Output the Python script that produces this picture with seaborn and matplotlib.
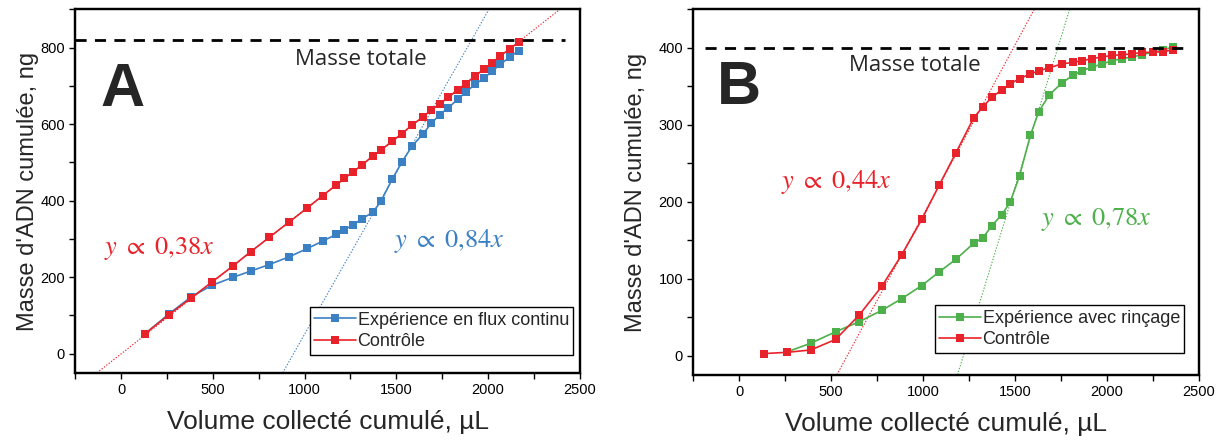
import numpy as np
import pandas as pd
import matplotlib.pyplot as plt
import seaborn as sns
from matplotlib.ticker import MultipleLocator
from matplotlib.lines import Line2D
from matplotlib.patches import Rectangle

# ---- Panel A : flux continu vs contrôle ----
vol_a = [129, 260, 382, 496, 611, 707, 807, 915, 1015, 1098, 1173, 1216, 1264,
         1315, 1373, 1416, 1478, 1531, 1587, 1644, 1691, 1738, 1785, 1836,
         1880, 1931, 1978, 2024, 2067, 2122, 2167]
flux_a = [52, 104, 149, 179, 200, 216, 233, 253, 275, 294, 312, 324, 336,
          353, 370, 398, 456, 501, 543, 573, 602, 625, 643, 665,
          684, 704, 720, 738, 756, 776, 792]
ctrl_a = [52, 102, 146, 188, 230, 267, 304, 344, 381, 413, 441, 458, 475,
          494, 517, 532, 555, 575, 598, 618, 637, 653, 670, 690,
          706, 726, 743, 760, 778, 797, 814]
fit_ctrl_a = (0.376, 0.0)      # slope, intercept
fit_flux_a = (0.844, -793.0)
total_a = 820

# ---- Panel B : rinçage vs contrôle ----
vol_b_ctrl = [134, 261, 388, 524, 652, 777, 884, 993, 1089, 1178, 1276, 1325,
              1376, 1428, 1474, 1526, 1584, 1630, 1688, 1755, 1815, 1864,
              1922, 1975, 2029, 2085, 2140, 2191, 2250, 2305, 2359]
ctrl_b = [2.6, 4.3, 7.3, 21, 52.6, 90.5, 131, 177, 222, 263, 309, 323,
          336, 345, 353, 360, 366, 370, 374, 379, 381, 383,
          386, 388, 390, 391, 392, 394, 394, 395, 397]
vol_b_rinse = vol_b_ctrl[1:]
rinse_b = [5, 16, 31, 44, 59, 74, 91, 109, 125, 146, 153,
           169, 183, 199, 234, 286, 317, 339, 354, 364, 370,
           375, 379, 383, 386, 388, 391, 394, 397, 401]
fit_ctrl_b = (0.442, -259.7)
fit_rinse_b = (0.778, -949.0)
total_b = 400

RED = "#e8222a"
BLUE = "#3c80c4"
GREEN = "#4db04a"

sns.set_style("ticks")
plt.rcParams['font.family'] = ['Liberation Sans', 'DejaVu Sans']
plt.rcParams['mathtext.fontset'] = 'stix'

fig = plt.figure(figsize=(12.25, 4.41), dpi=100)
ax_a = fig.add_axes([0.0616, 0.1545, 0.4115, 0.8245])
ax_b = fig.add_axes([0.5661, 0.1500, 0.4123, 0.8290])


def draw_panel(ax, series, fits, total, total_x, txt_pos, letter_pos, letter,
               eq_texts, ylim, ymaj, ymin, leg_anchor, ypad):
    for x, y, c, lab in series:
        df = pd.DataFrame({"x": x, "y": y})
        sns.lineplot(data=df, x="x", y="y", ax=ax, color=c, marker="s",
                     markersize=5.5, markeredgewidth=0, linewidth=1.2,
                     legend=False)
    for (m, b), c in fits:
        ax.axline((0, b), slope=m, color=c, linestyle=(0, (1.2, 1.5)),
                  linewidth=0.8, zorder=1)
    ax.hlines(total, total_x[0], total_x[1], colors="black",
              linestyles=(0, (4, 3)), linewidth=2, zorder=3)
    ax.text(txt_pos[0], txt_pos[1], "Masse totale", fontsize=16,
            family="Open Sans", ha="center", va="center")
    ax.text(letter_pos[0], letter_pos[1], letter, fontsize=44,
            fontweight="bold", ha="center", va="center")
    for (tx, ty, s, c) in eq_texts:
        ax.text(tx, ty, s, color=c, fontsize=19, ha="center", va="center")

    ax.set_xlim(-250, 2500)
    ax.set_ylim(*ylim)
    ax.xaxis.set_major_locator(MultipleLocator(500))
    ax.xaxis.set_minor_locator(MultipleLocator(250))
    ax.yaxis.set_major_locator(MultipleLocator(ymaj))
    ax.yaxis.set_minor_locator(MultipleLocator(ymin))
    ax.tick_params(which="both", direction="out", length=4, width=1,
                   labelsize=10.5, colors="black")
    for sp in ax.spines.values():
        sp.set_linewidth(1.6)
        sp.set_color("black")
    # full black frame around the plot area
    ax.add_patch(Rectangle((0, 0), 1, 1, transform=ax.transAxes, fill=False,
                           edgecolor="black", linewidth=1.6, clip_on=False,
                           zorder=6))
    ax.set_xlabel("Volume collecté cumulé, µL", fontsize=19, labelpad=9)
    ax.set_ylabel("Masse d'ADN cumulée, ng", fontsize=17, labelpad=ypad)

    handles = [Line2D([], [], color=c, marker="s", markersize=5.5,
                      markeredgewidth=0, linewidth=1.2) for _, _, c, _ in series]
    labels = [lab for _, _, _, lab in series]
    leg = ax.legend(handles, labels, loc="lower right",
                    bbox_to_anchor=leg_anchor, borderaxespad=0,
                    fontsize=13, frameon=True, fancybox=False,
                    edgecolor="black", framealpha=1, borderpad=0.25,
                    labelspacing=0.25, handlelength=2.3, handletextpad=0.1)
    leg.get_frame().set_linewidth(1.0)


draw_panel(ax_a,
           [(vol_a, flux_a, BLUE, "Expérience en flux continu"),
            (vol_a, ctrl_a, RED, "Contrôle")],
           [(fit_ctrl_a, RED), (fit_flux_a, BLUE)],
           total_a, (-250, 2420), (1309, 769), (9, 689), "A",
           [(209, 276, r"$y\ \propto\ 0{,}38x$", RED),
            (1791, 294, r"$y\ \propto\ 0{,}84x$", BLUE)],
           (-50, 900), 200, 100, (0.988, 0.05), 1)

draw_panel(ax_b,
           [(vol_b_rinse, rinse_b, GREEN, "Expérience avec rinçage"),
            (vol_b_ctrl, ctrl_b, RED, "Contrôle")],
           [(fit_ctrl_b, RED), (fit_rinse_b, GREEN)],
           total_b, (-187, 2435), (956, 377), (-5, 347), "B",
           [(530, 225, r"$y\ \propto\ 0{,}44x$", RED),
            (1946, 177, r"$y\ \propto\ 0{,}78x$", GREEN)],
           (-25, 450), 100, 50, (0.972, 0.06), 8)

fig.savefig("out.png", dpi=100)
